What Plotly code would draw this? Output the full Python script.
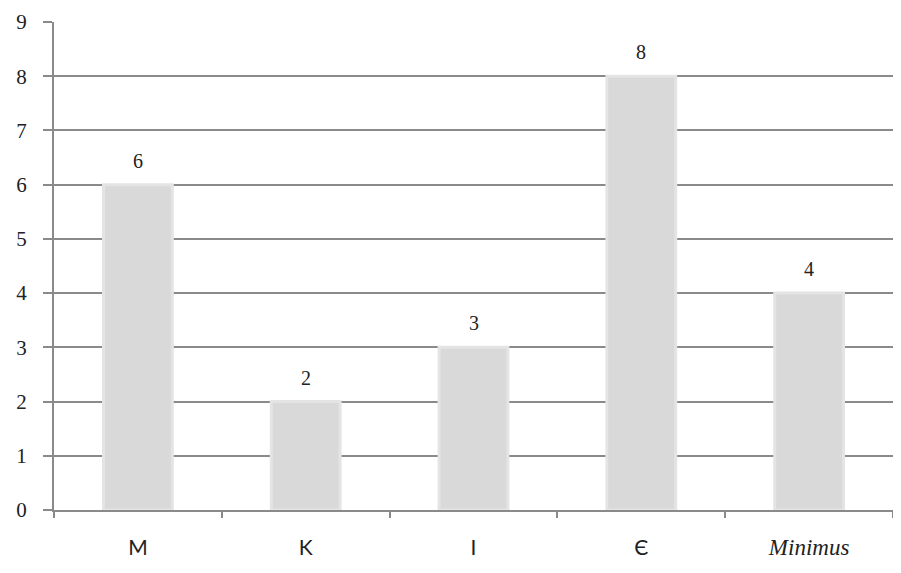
import plotly.graph_objects as go

# ─── data ───
categories = ["M", "K", "I", "Є", "Minimus"]
tick_labels = ["M", "K", "I", "Є",
               "<span style='font-family:Liberation Serif;font-size:23px'><i>Minimus</i></span>"]
values = [6, 2, 3, 8, 4]

grey_line = "#8a8a8a"

fig = go.Figure(go.Bar(
    x=categories, y=values,
    width=0.41,
    marker=dict(color="#d9d9d9", line=dict(color="#e4e4e4", width=3)),
    hoverinfo="x+y",
))

# value labels floating above each bar
for c, v in zip(categories, values):
    fig.add_annotation(x=c, y=v, text=str(v), showarrow=False,
                       yanchor="bottom", yshift=11,
                       font=dict(family="Liberation Serif", size=20, color="#222"))

# page body adds an 8px offset, so the figure is sized to sit inside the window
fig.update_layout(
    width=887, height=565,
    margin=dict(l=46, r=2, t=14, b=63),
    paper_bgcolor="white",
    plot_bgcolor="white",
    showlegend=False,
    xaxis=dict(
        tickmode="array", tickvals=categories, ticktext=tick_labels,
        tickson="boundaries", ticks="outside", ticklen=6, tickwidth=2,
        tickcolor=grey_line, ticklabelstandoff=18,
        showline=True, linecolor=grey_line, linewidth=2,
        showgrid=False, automargin=False,
        tickfont=dict(family="Lato", size=21, color="#222"),
    ),
    yaxis=dict(
        range=[0, 9], dtick=1,
        ticks="outside", ticklen=9, tickwidth=2, tickcolor=grey_line,
        ticklabelstandoff=12,
        showline=True, linecolor=grey_line, linewidth=2,
        showgrid=True, gridcolor=grey_line, gridwidth=2,
        zeroline=False, automargin=False,
        tickfont=dict(family="Liberation Serif", size=21, color="#222"),
    ),
)

fig.write_html("out.html")
